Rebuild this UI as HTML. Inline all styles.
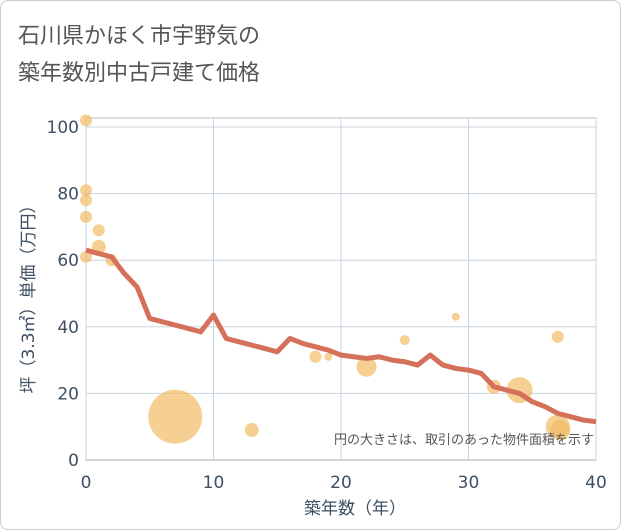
<!DOCTYPE html>
<html><head><meta charset="utf-8"><style>
body{margin:0;background:#fff;}
#card{position:absolute;left:0;top:0;width:619px;height:528px;border:1px solid #ccc;border-radius:8px;background:#fff;overflow:hidden;}
.t{position:absolute;left:17px;font:22px "Liberation Sans","Noto Sans CJK JP",sans-serif;color:#555;}
svg text{font-family:"DejaVu Sans","Noto Sans CJK JP",sans-serif;}
</style></head><body>
<div id="card">
<div class="t" style="top:17px">石川県かほく市宇野気の</div>
<div class="t" style="top:54px">築年数別中古戸建て価格</div>
<svg id="chart" width="621" height="530" style="position:absolute;left:-1px;top:-1px"></svg>
</div>
<script>
const xTicks=[0,10,20,30,40];
const yTicks=[0,20,40,60,80,100];
const lineYears=[0,1,2,3,4,5,6,7,8,9,10,11,12,13,14,15,16,17,18,19,20,21,22,23,24,25,26,27,28,29,30,31,32,33,34,35,36,37,38,39,40];
const linePrices=[63,62,61,56,52,42.5,41.5,40.5,39.5,38.5,43.5,36.5,35.5,34.5,33.5,32.5,36.5,35,34,33,31.5,31,30.5,31,30,29.5,28.5,31.5,28.5,27.5,27,26,22,21,20,17.5,16,14,13,12,11.5];
const bubbleYears=[0,0,0,0,0,1,1,2,7,13,18,19,22,25,29,32,34,37,37,37.2];
const bubblePrices=[102,81,78,73,61,69,64,60,13,9,31,31,28,36,43,22,21,37,10,9];
const bubbleSizes=[6,6,6,6,6,6,7,6,27,7,6,4,10,5,4,7,13,6,12,10];
const svg=document.getElementById('chart');const NS='http://www.w3.org/2000/svg';
const X0=86,X1=596,Y0=460,Y1=127;
const xs=v=>X0+(v-0)/40*(X1-X0);
const ys=v=>Y0-(v/100)*(Y0-Y1);
function mk(t,a){const e=document.createElementNS(NS,t);for(const k in a)e.setAttribute(k,a[k]);svg.appendChild(e);return e;}
let bg=mk('rect',{x:X0,y:118,width:X1-X0,height:Y0-118,fill:'#fff',stroke:'#bbb'});


xTicks.forEach(v=>{let l=mk('line',{x1:xs(v),x2:xs(v),y1:118,y2:Y0,stroke:'#c8d4e0','stroke-width':1});


let t=mk('text',{x:xs(v),y:488,'text-anchor':'middle','font-size':17,fill:'#3d4f63'});t.textContent=v;

});
yTicks.forEach(v=>{let l=mk('line',{x1:X0,x2:X1,y1:ys(v),y2:ys(v),stroke:'#c8d4e0','stroke-width':1});


let t=mk('text',{x:79,y:ys(v)+6,'text-anchor':'end','font-size':17,fill:'#3d4f63'});t.textContent=v;

});
bubbleYears.forEach((v,i)=>{let c=mk('circle',{cx:xs(v),cy:ys(bubblePrices[i]),r:bubbleSizes[i],fill:'rgba(242,186,100,0.7)'});

});
let p=mk('polyline',{points:lineYears.map((v,i)=>xs(v)+','+ys(linePrices[i])).join(' '),fill:'none',stroke:'#d5705a','stroke-width':5,'stroke-linejoin':'round'});


let ax=mk('line',{x1:X0,x2:X1,y1:Y0,y2:Y0,stroke:'#aaa'});


let note=mk('text',{x:594,y:444,'text-anchor':'end','font-size':13,fill:'#555'});note.textContent='円の大きさは、取引のあった物件面積を示す';


let xt=mk('text',{x:355,y:514,'text-anchor':'middle','font-size':17,fill:'#3d4f63'});xt.textContent='築年数（年）';


let yt=mk('text',{x:0,y:0,'text-anchor':'middle','font-size':17,fill:'#3d4f63',transform:'translate(34,295) rotate(-90)'});yt.textContent='坪（3.3㎡）単価（万円）';


</script>
</body></html>
